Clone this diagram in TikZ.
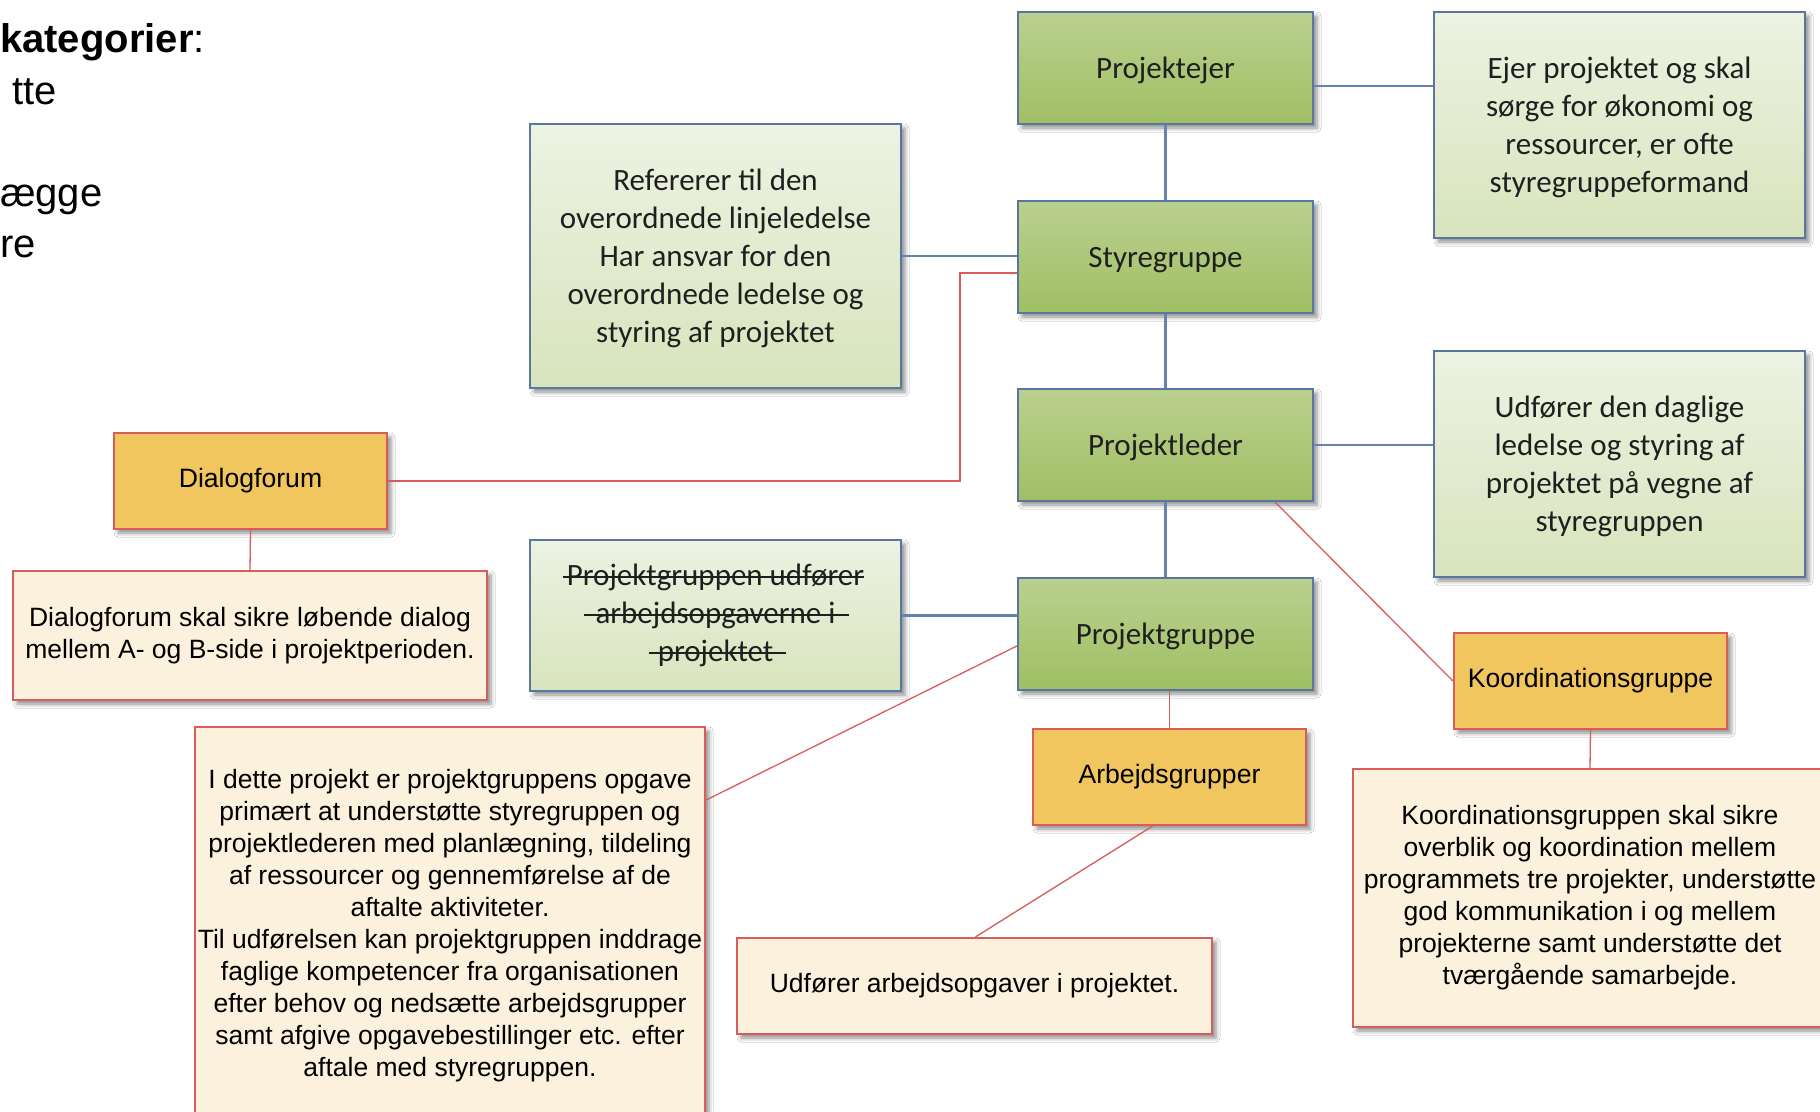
\documentclass[tikz,border=0pt]{standalone}
\usepackage{fontspec}
\setmainfont{Liberation Sans}
\newfontfamily\calibrifont{Carlito}
\usetikzlibrary{calc,shadows.blur}

\definecolor{grTop}{HTML}{BAD08F}
\definecolor{grBot}{HTML}{A0BF63}
\definecolor{ltTop}{HTML}{EDF2E2}
\definecolor{ltBot}{HTML}{D8E4BD}
\definecolor{boxBlue}{HTML}{58769E}
\definecolor{linkBlue}{HTML}{6483AD}
\definecolor{redLine}{HTML}{D85C5C}
\definecolor{orangeFill}{HTML}{F1C65E}
\definecolor{creamFill}{HTML}{FCF1DD}

% struck-through line: #1 overhang left, #2 overhang right, #3 text
\newsavebox\strikebox
\newcommand\struck[3]{\sbox\strikebox{#3}\leavevmode
  \rlap{\kern-#1\rule[0.26em]{\dimexpr\wd\strikebox+#1+#2\relax}{1.4pt}}\usebox\strikebox}
% pushes a block of centred lines down inside its box, keeping the box size
\newcommand\droplines[2]{\raisebox{-#1}[\height][\depth]{\begin{tabular}{@{}c@{}}#2\end{tabular}}}

\begin{document}
\begin{tikzpicture}[x=1pt,y=-1pt,
  softshadow/.style={blur shadow={shadow xshift=4pt,shadow yshift=-4pt,shadow blur radius=4pt,shadow opacity=45}},
  role/.style={draw=boxBlue, line width=2.4pt, top color=grTop, bottom color=grBot,
    font={\calibrifont\fontsize{31}{38}\selectfont}, text=black!88, align=center, inner sep=0pt, softshadow},
  note/.style={draw=boxBlue, line width=2.4pt, top color=ltTop, bottom color=ltBot,
    font={\calibrifont\fontsize{31}{38}\selectfont}, text=black!88, align=center, inner sep=0pt, softshadow},
  forum/.style={draw=redLine, line width=2.2pt, fill=orangeFill,
    font={\fontsize{26.6}{32}\selectfont}, align=center, inner sep=0pt, softshadow},
  detail/.style={draw=redLine, line width=2.2pt, fill=creamFill,
    font={\fontsize{26.5}{32}\selectfont}, align=center, inner sep=0pt, softshadow},
  blueLink/.style={draw=linkBlue, line width=2.6pt},
  redLink/.style={draw=redLine, line width=1.3pt},
  heading/.style={anchor=base west, inner sep=0pt, font={\fontsize{40}{48}\selectfont}}
]
\useasboundingbox[fill=white] (0,0) rectangle (1820,1111);

% slide text at the left edge
\node[heading] (h1) at (0,52) {\textbf{kategorier}:};
\node[heading] (h2) at (12,104) {tte};
\node[heading] (h3) at (0,206) {ægge};
\node[heading] (h4) at (0,257) {re};

% roles
\node[role, minimum width=295pt, minimum height=112pt] (pe) at (1165.5,68) {\droplines{3pt}{Projektejer}};
\node[role, minimum width=295pt, minimum height=112pt] (sg) at (1165.5,257) {\droplines{3pt}{Styregruppe}};
\node[role, minimum width=295pt, minimum height=112pt] (pl) at (1165.5,445) {\droplines{3pt}{Projektleder}};
\node[role, minimum width=295pt, minimum height=112pt] (pg) at (1165.5,634) {\droplines{3pt}{Projektgruppe}};

% role descriptions
\node[note, minimum width=371pt, minimum height=226pt] (ejer) at (1619.5,125)
  {\droplines{3pt}{Ejer projektet og skal\\ sørge for økonomi og\\ ressourcer, er ofte\\ styregruppeformand}};
\node[note, minimum width=371pt, minimum height=264pt] (ref) at (715.5,256)
  {\droplines{3pt}{Refererer til den\\ overordnede linjeledelse\\ Har ansvar for den\\ overordnede ledelse og\\ styring af projektet}};
\node[note, minimum width=371pt, minimum height=226pt] (dagl) at (1619.5,464)
  {\droplines{3pt}{Udfører den daglige\\ ledelse og styring af\\ projektet på vegne af\\ styregruppen}};
\node[note, minimum width=371pt, minimum height=151pt] (strk) at (715.5,615.5)
  {\struck{4pt}{0pt}{Projektgruppen udfører}\\ \struck{12pt}{14pt}{arbejdsopgaverne i}\\ \struck{9pt}{13pt}{projektet}};

% forums and groups
\node[forum, minimum width=273pt, minimum height=96pt] (dlg) at (250.5,481) {Dialogforum};
\node[forum, minimum width=273pt, minimum height=96pt] (arb) at (1169.5,777) {Arbejdsgrupper};
\node[forum, minimum width=273pt, minimum height=96pt] (koord) at (1590.5,681) {Koordinationsgruppe};

% their descriptions
\node[detail, minimum width=474pt, minimum height=129pt] (dlgtxt) at (250,635.5)
  {Dialogforum skal sikre løbende dialog\\ mellem A- og B-side i projektperioden.};
\node[detail, minimum width=510pt, minimum height=398pt] (pgtxt) at (450,926)
  {I dette projekt er projektgruppens opgave\\ primært at understøtte styregruppen og\\
   projektlederen med planlægning, tildeling\\ af ressourcer og gennemførelse af de\\
   aftalte aktiviteter.\\ Til udførelsen kan projektgruppen inddrage\\
   faglige kompetencer fra organisationen\\ efter behov og nedsætte arbejdsgrupper\\
   samt afgive opgavebestillinger etc. efter\\ aftale med styregruppen.};
\node[detail, minimum width=475pt, minimum height=96pt] (arbtxt) at (974.5,986)
  {Udfører arbejdsopgaver i projektet.};
\node[detail, minimum width=474pt, minimum height=258pt] (koordtxt) at (1590,898)
  {Koordinationsgruppen skal sikre\\ overblik og koordination mellem\\
   programmets tre projekter, understøtte\\ god kommunikation i og mellem\\
   projekterne samt understøtte det\\ tværgående samarbejde.};

% hierarchy links
\draw[blueLink] (pe.south) -- (sg.north);
\draw[blueLink] (sg.south) -- (pl.north);
\draw[blueLink] (pl.south) -- (pg.north);
\coordinate (peR) at ($(pe.east)+(0,18)$);
\draw[blueLink] (peR) -- (peR -| ejer.west);
\draw[blueLink] (ref.east) -- (ref.east -| sg.west);
\draw[blueLink] (pl.east) -- (pl.east -| dagl.west);
\draw[blueLink] (strk.east) -- (strk.east -| pg.west);

% forum links
\coordinate (dlgTurn) at (960,273);
\draw[redLink] (dlg.east) -| (dlgTurn) -- (dlgTurn -| sg.west);
\draw[redLink] (dlg.south) -- (dlgtxt.north);
\draw[redLink] ($(pl.south east)+(-39,0)$) -- (koord.west);
\draw[redLink] (koord.south) -- (koordtxt.north);
\draw[redLink] ($(pg.west)+(0,12)$) -- ($(pgtxt.east)+(0,-126)$);
\draw[redLink] (arb.north |- pg.south) -- (arb.north);
\draw[redLink] ($(arb.south)+(-17,0)$) -- ($(arbtxt.north)+(1,0)$);
\end{tikzpicture}
\end{document}
